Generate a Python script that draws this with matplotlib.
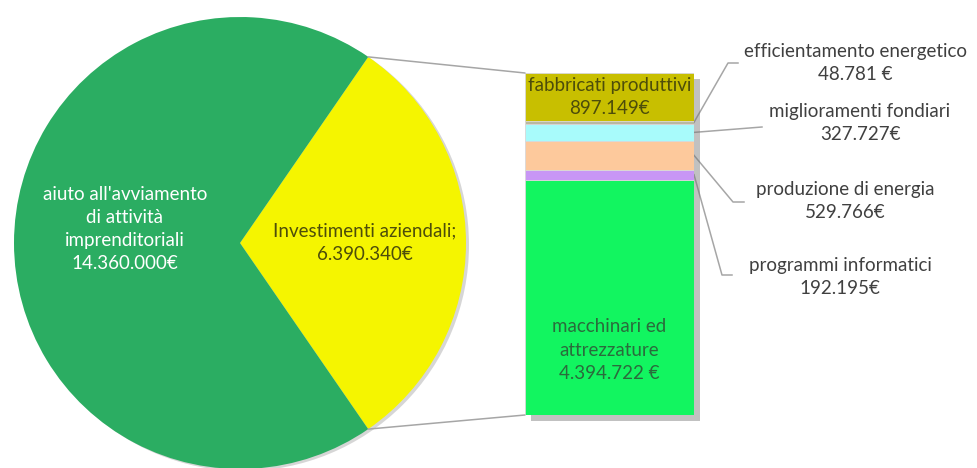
import numpy as np
import matplotlib
matplotlib.use("Agg")
import matplotlib.pyplot as plt
import matplotlib.patheffects as pe
from matplotlib.patches import ConnectionPatch, Circle

plt.rcParams['font.family'] = ['Lato', 'DejaVu Sans']

# pie data
pie_labels = ["Investimenti aziendali;\n6.390.340€",
              "aiuto all'avviamento\ndi attività\nimprenditoriali\n14.360.000€"]
pie_values = [6390340, 14360000]
pie_colors = ["#f5f500", "#2bad62"]

# bar data (bottom to top)
bar_names = ["macchinari ed\nattrezzature", "programmi informatici", "produzione di energia",
             "miglioramenti fondiari", "efficientamento energetico", "fabbricati produttivi"]
bar_values = [4394722, 192195, 529766, 327727, 48781, 897149]
bar_value_labels = ["4.394.722 €", "192.195€", "529.766€", "327.727€", "48.781 €", "897.149€"]
bar_colors = ["#12f560", "#c896f5", "#fdc99c", "#a8fbfb", "#b9b9a0", "#c8bf00"]

W, H = 978, 468
fig = plt.figure(figsize=(W / 100, H / 100), dpi=100)
ax = fig.add_axes([0, 0, 1, 1])

# pie, yellow slice centred on the right side
cx, cy, R = 240, 225, 226
yellow_ang = 360 * pie_values[0] / sum(pie_values)
# soft shadow behind the whole pie
ax.add_patch(Circle((cx + 3, cy - 2), R, color="#9a9a9a", alpha=0.4, zorder=0.5, linewidth=0))
wedges, _ = ax.pie(pie_values, colors=pie_colors, center=(cx, cy), radius=R,
                   startangle=-yellow_ang / 2, counterclock=True,
                   wedgeprops=dict(linewidth=0, zorder=1))
ax.set_xlim(0, W)
ax.set_ylim(0, H)
ax.set_aspect('auto')
ax.axis('off')

ax.text(125, 239, pie_labels[1], color="white", ha="center", va="center",
        fontsize=13.5, linespacing=1.45)
ax.text(365, 225, pie_labels[0], color="#4d4d0a", ha="center", va="center",
        fontsize=13.5, linespacing=1.45)

# stacked bar
bx = fig.add_axes([525 / W, (H - 415) / H, 169 / W, 342 / H])
total = sum(bar_values)
shadow = bx.bar(0.5, total, width=1, color="white",
                path_effects=[pe.SimplePatchShadow(offset=(4, -4), shadow_rgbFace="#777777", alpha=0.45),
                              pe.Normal()])
for p in shadow:
    p.set_clip_on(False)
bottoms = np.concatenate([[0], np.cumsum(bar_values)[:-1]])
bx.bar(0.5, bar_values, bottom=bottoms, width=1, color=bar_colors, linewidth=0.6,
       edgecolor="#d8d8d8")
bx.set_xlim(0, 1)
bx.set_ylim(0, total)
bx.axis('off')

bx.text(0.5, bottoms[5] + bar_values[5] / 2, bar_names[5] + "\n" + bar_value_labels[5],
        ha="center", va="center", color="#4d4d0a", fontsize=13.5, linespacing=1.4)
bx.text(0.5, 0.19, bar_names[0] + "\n" + bar_value_labels[0], transform=bx.transAxes,
        ha="center", va="center", color="#2a6b3c", fontsize=13.5, linespacing=1.45)

# connector lines from pie to bar
line_kw = dict(color="#a6a6a6", linewidth=1.1)
a = np.radians(yellow_ang / 2)
for sgn, by in [(1, total), (-1, 0)]:
    px, py = cx + R * np.cos(a), cy + sgn * R * np.sin(a)
    con = ConnectionPatch(xyA=(px, py), coordsA=ax.transData, xyB=(0, by), coordsB=bx.transData,
                          **line_kw)
    fig.add_artist(con)

# right labels with leader lines
def bar_pt(i):
    ymid = bottoms[i] + bar_values[i] / 2
    return ax.transData.inverted().transform(bx.transData.transform((1, ymid)))

right = [
    (4, (728, 405), (738, 405), (855, 405)),
    (3, (762, 341), (762, 341), (860, 345)),
    (2, (733, 266), (744, 266), (845, 267)),
    (1, (722, 193), (732, 193), (840, 191)),
]
for i, knee, end, tpos in right:
    sx, sy = bar_pt(i)
    ax.plot([sx, knee[0], end[0]], [sy, knee[1], end[1]], **line_kw)
    ax.text(tpos[0], tpos[1], bar_names[i] + "\n" + bar_value_labels[i], ha="center", va="center",
            color="#404040", fontsize=13.5, linespacing=1.45)

fig.savefig("out.png", dpi=100)
